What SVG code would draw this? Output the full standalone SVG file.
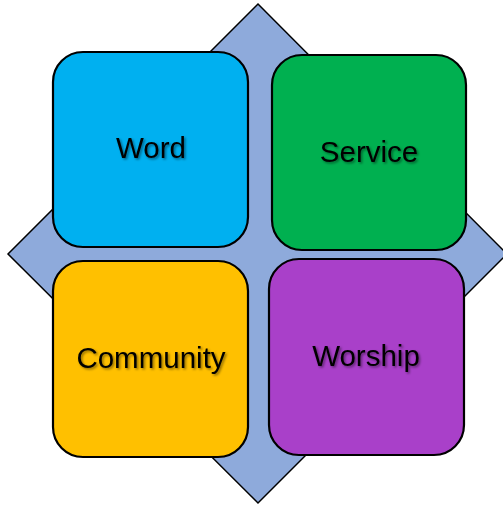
<svg xmlns="http://www.w3.org/2000/svg" width="503" height="505" viewBox="0 0 503 505">
<defs>
<style>
.box{stroke:#000;stroke-width:2.2}
.lbl{font-family:"Liberation Sans",Arial,sans-serif;font-size:29.5px;fill:#000;text-anchor:middle;filter:url(#sh)}
</style>
<filter id="sh" x="-20%" y="-30%" width="140%" height="160%">
<feDropShadow dx="1.5" dy="1.5" stdDeviation="1.2" flood-color="#000" flood-opacity="0.45"/>
</filter>
</defs>
<rect width="503" height="505" fill="#fff"/>
<g id="diamond">
<polygon points="258,4 507,254 258,503 8,254" fill="#8EAADB" stroke="#000" stroke-width="1.5"/>
</g>
<g id="connectors"></g>
<g id="word">
<rect class="box" x="53" y="52" width="195" height="195" rx="30" fill="#00B0F0"/>
<text class="lbl" x="151" y="158">Word</text>
</g>
<g id="service">
<rect class="box" x="272" y="55" width="194" height="195" rx="30" fill="#00B050"/>
<text class="lbl" x="369" y="162">Service</text>
</g>
<g id="community">
<rect class="box" x="53" y="261" width="195" height="196" rx="30" fill="#FFC000"/>
<text class="lbl" x="151" y="368">Community</text>
</g>
<g id="worship">
<rect class="box" x="269" y="259" width="195" height="196" rx="30" fill="#A940C9"/>
<text class="lbl" x="366" y="366">Worship</text>
</g>
</svg>
